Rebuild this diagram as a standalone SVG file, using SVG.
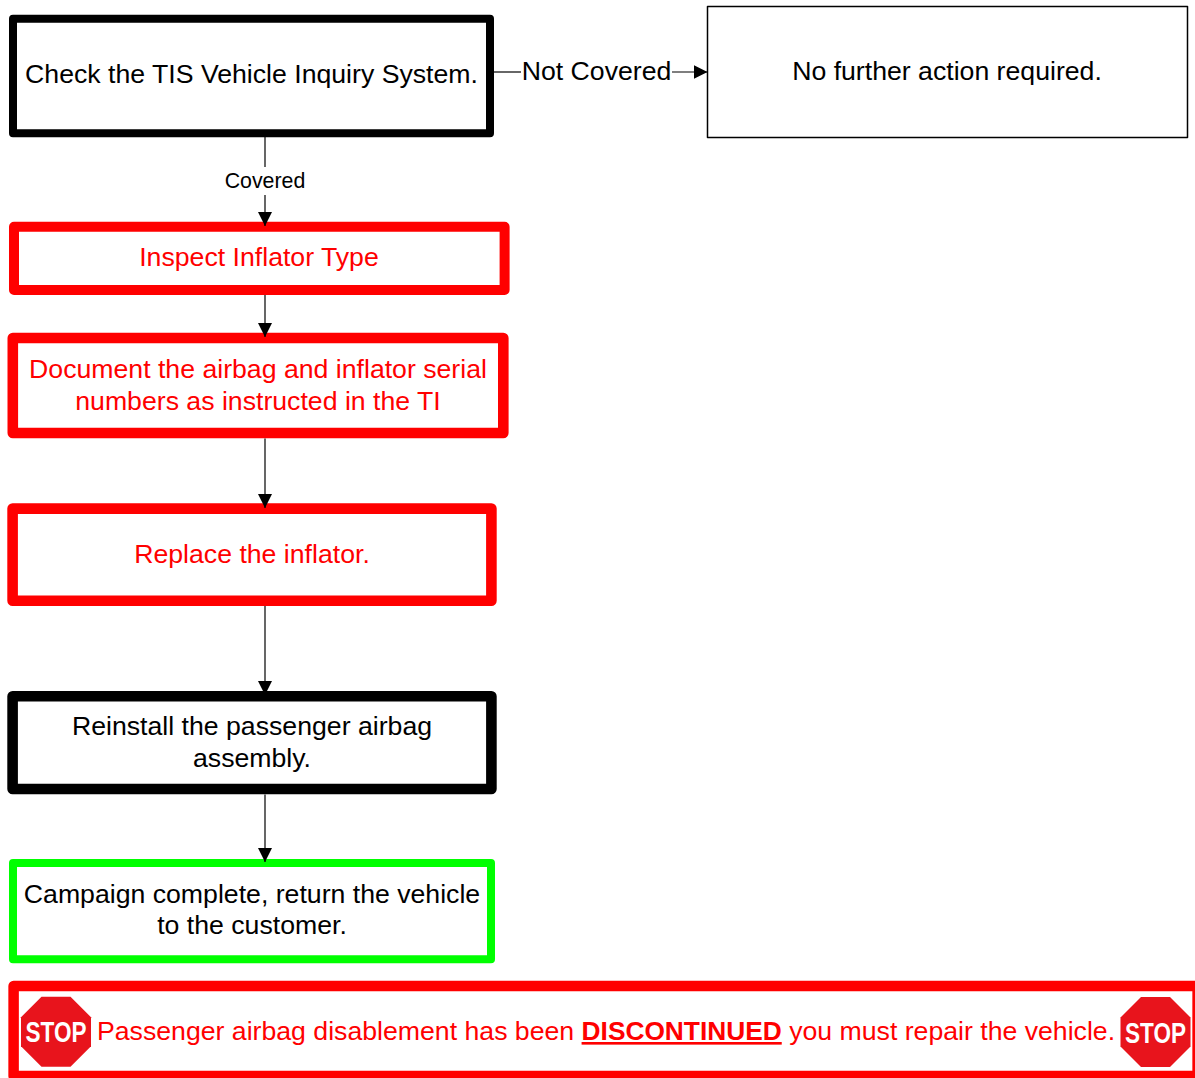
<svg xmlns="http://www.w3.org/2000/svg" width="1195" height="1078" viewBox="0 0 1195 1078">
<style>
text{font-family:"Liberation Sans",Arial,sans-serif;font-size:26.67px;text-anchor:middle}
.box{fill:#fff;stroke-linejoin:round}
.blk{stroke:#000}
.red{stroke:#ff0000}
.grn{stroke:#00ff00}
.tr{fill:#ff0000}
.tk{fill:#000}
.conn{stroke:#000;stroke-width:1.2;fill:none}
.stoptxt{fill:#fff;font-weight:bold;font-size:29px}
</style>
<defs>
<marker id="arr" markerUnits="userSpaceOnUse" markerWidth="14" markerHeight="14" refX="14" refY="7" orient="auto">
<path d="M0,0 L14,7 L0,14 z" fill="#000"/>
</marker>
<g id="stopsign">
<polygon points="-14.5,-35 14.5,-35 35,-14.5 35,14.5 14.5,35 -14.5,35 -35,14.5 -35,-14.5" fill="#e8141c"/>
<text class="stoptxt" x="0" y="10.5" textLength="61" lengthAdjust="spacingAndGlyphs">STOP</text>
</g>
</defs>
<rect width="1195" height="1078" fill="#fff"/>

<g id="node-check">
<rect class="box blk" x="13" y="18.7" width="477" height="114.6" stroke-width="8"/>
<text class="tk" x="251.5" y="83">Check the TIS Vehicle Inquiry System.</text>
</g>

<g id="node-nofurther">
<rect class="box blk" x="707.5" y="6.5" width="480" height="131" stroke-width="1.5"/>
<text class="tk" x="947" y="80">No further action required.</text>
</g>

<g id="node-inspect">
<rect class="box red" x="14" y="226.7" width="490.6" height="63.3" stroke-width="10"/>
<text class="tr" x="259" y="265.5">Inspect Inflator Type</text>
</g>

<g id="node-document">
<rect class="box red" x="12.8" y="338" width="490.5" height="95" stroke-width="10.6"/>
<text class="tr" x="258" y="378">Document the airbag and inflator serial</text>
<text class="tr" x="258" y="410">numbers as instructed in the TI</text>
</g>

<g id="node-replace">
<rect class="box red" x="12.6" y="508.6" width="478.8" height="92.2" stroke-width="10.6"/>
<text class="tr" x="252" y="563.3">Replace the inflator.</text>
</g>

<g id="node-reinstall">
<rect class="box blk" x="12.6" y="696.3" width="478.8" height="92.7" stroke-width="10.6"/>
<text class="tk" x="252" y="735">Reinstall the passenger airbag</text>
<text class="tk" x="252" y="766.7">assembly.</text>
</g>

<g id="node-campaign">
<rect class="box grn" x="13" y="863" width="478" height="96.3" stroke-width="8"/>
<text class="tk" x="252" y="903.3">Campaign complete, return the vehicle</text>
<text class="tk" x="252" y="934">to the customer.</text>
</g>

<g id="node-banner">
<rect class="box red" x="13.6" y="986" width="1184" height="90" stroke-width="10.5"/>
<use href="#stopsign" x="56" y="1031.7"/>
<use href="#stopsign" x="1155.5" y="1032"/>
<text class="tr" x="97" y="1040" style="text-anchor:start">Passenger airbag disablement has been <tspan font-weight="bold" font-size="26.3px" text-decoration="underline">DISCONTINUED</tspan> you must repair the vehicle.</text>
</g>

<g id="connectors">
<line class="conn" x1="265" y1="137" x2="265" y2="167"/>
<line class="conn" x1="265" y1="195" x2="265" y2="226" marker-end="url(#arr)"/>
<text class="tk" x="265" y="188" style="font-size:21.33px">Covered</text>
<line class="conn" x1="494" y1="72" x2="521" y2="72"/>
<text class="tk" x="596.5" y="80">Not Covered</text>
<line class="conn" x1="672" y1="72" x2="707.5" y2="72" marker-end="url(#arr)"/>
<line class="conn" x1="265" y1="295" x2="265" y2="337" marker-end="url(#arr)"/>
<line class="conn" x1="265" y1="438.5" x2="265" y2="508" marker-end="url(#arr)"/>
<line class="conn" x1="265" y1="606" x2="265" y2="695" marker-end="url(#arr)"/>
<line class="conn" x1="265" y1="794.5" x2="265" y2="862" marker-end="url(#arr)"/>
</g>
</svg>
